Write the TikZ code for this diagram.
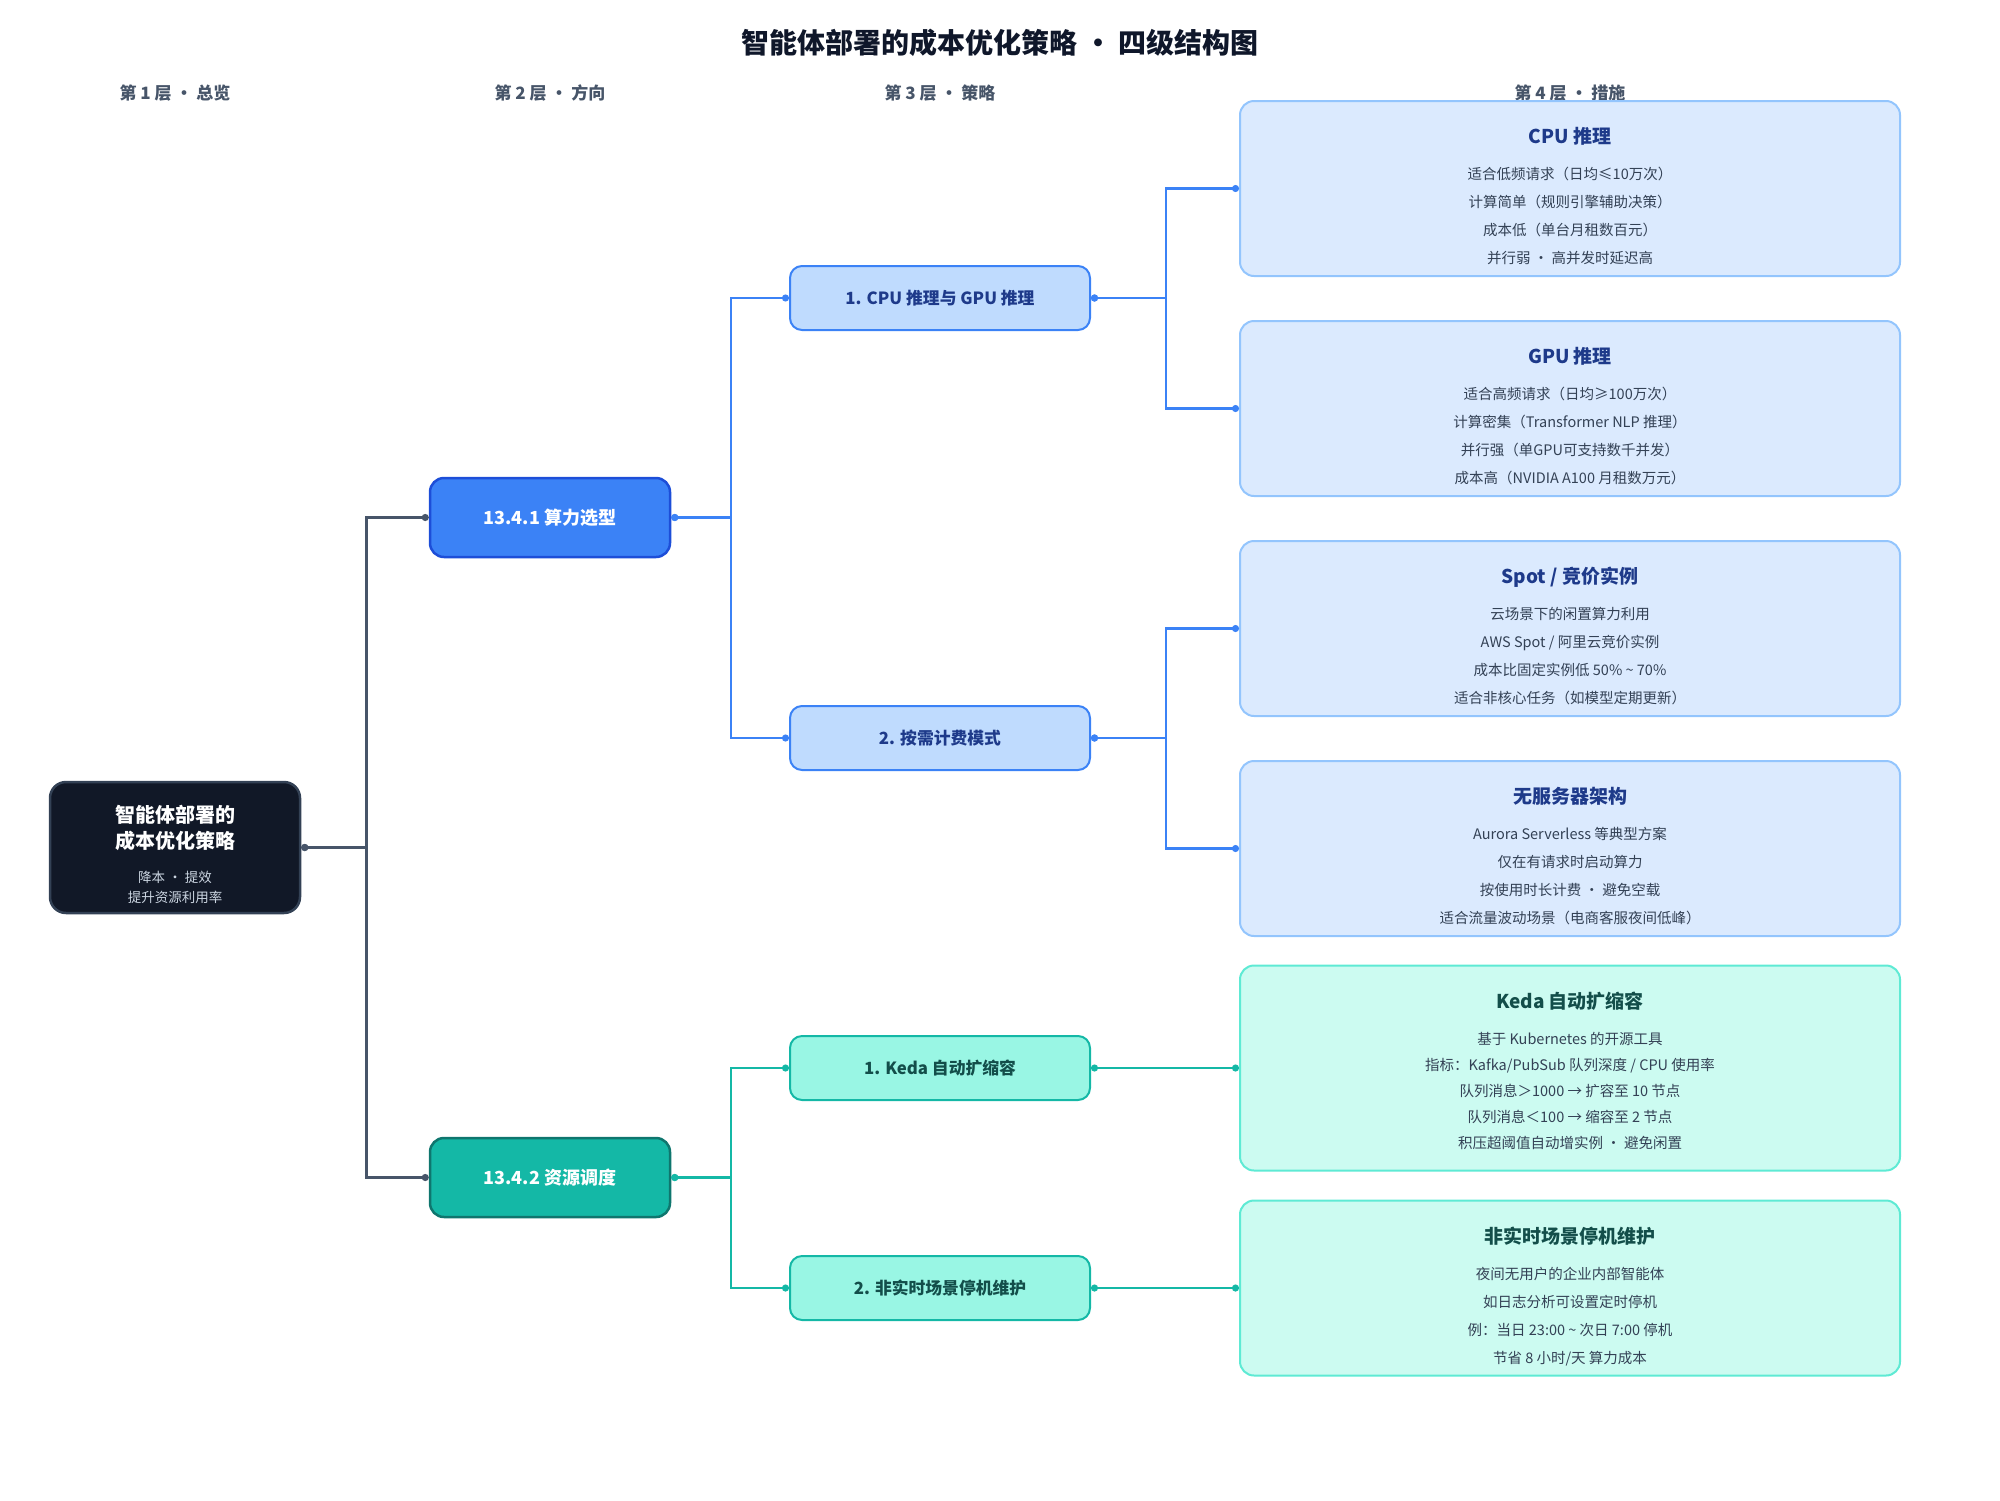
\documentclass[tikz,border=0pt]{standalone}
\usepackage{fontspec}
\setmainfont{Noto Sans CJK SC}
\usepackage{xcolor}
\usepackage{tikz}
\usetikzlibrary{positioning,arrows.meta}

\definecolor{titleInk}{HTML}{0F172A}
\definecolor{headInk}{HTML}{475569}
\definecolor{rootFill}{HTML}{111827}
\definecolor{rootLine}{HTML}{334155}
\definecolor{rootSub}{HTML}{CBD5E1}
\definecolor{trunkLine}{HTML}{475569}
\definecolor{blueMain}{HTML}{3B82F6}
\definecolor{blueDeep}{HTML}{1D4ED8}
\definecolor{blueSoft}{HTML}{BFDBFE}
\definecolor{blueWash}{HTML}{DBEAFE}
\definecolor{bluePale}{HTML}{93C5FD}
\definecolor{blueInk}{HTML}{1E3A8A}
\definecolor{tealMain}{HTML}{14B8A6}
\definecolor{tealDeep}{HTML}{0F766E}
\definecolor{tealSoft}{HTML}{99F6E4}
\definecolor{tealWash}{HTML}{CCFBF1}
\definecolor{tealPale}{HTML}{5EEAD4}
\definecolor{tealInk}{HTML}{134E4A}
\definecolor{bodyInk}{HTML}{334155}

\newcommand{\mhead}[2]{{\color{#1}\bfseries\fontsize{19}{28}\selectfont #2}}

\begin{document}
\begin{tikzpicture}[
    x=1pt, y=-1pt,
    header/.style={font=\bfseries\fontsize{17}{20}\selectfont, text=headInk},
    rootbox/.style={rectangle, draw=rootLine, fill=rootFill, line width=2.5pt, rounded corners=16pt, minimum width=250pt, minimum height=131pt},
    roottext/.style={align=center, inner sep=0pt, text=white, font=\bfseries\fontsize{20}{26}\selectfont},
    topic/.style={rectangle, line width=2.5pt, rounded corners=14pt, minimum width=240pt, minimum height=79pt, text=white, font=\bfseries\fontsize{18}{22}\selectfont},
    bluetopic/.style={topic, draw=blueDeep, fill=blueMain},
    greentopic/.style={topic, draw=tealDeep, fill=tealMain},
    tactic/.style={rectangle, line width=2pt, rounded corners=12pt, minimum width=300pt, minimum height=64pt, font=\bfseries\fontsize{16.8}{20}\selectfont},
    bluetactic/.style={tactic, draw=blueMain, fill=blueSoft, text=blueInk},
    greentactic/.style={tactic, draw=tealMain, fill=tealSoft, text=tealInk},
    measure/.style={rectangle, line width=2pt, rounded corners=14pt, minimum width=660pt, minimum height=175pt},
    bluemeasure/.style={measure, draw=bluePale, fill=blueWash},
    greenmeasure/.style={measure, draw=tealPale, fill=tealWash},
    detail/.style={align=center, inner sep=0pt, text=bodyInk, font=\fontsize{14.5}{28}\selectfont},
    link/.style={line width=2.5pt, arrows={Circle[length=7pt]-Circle[length=7pt]}},
    trunk/.style={link, draw=trunkLine},
    bluelink/.style={link, line width=2.2pt, draw=blueMain},
    greenlink/.style={link, line width=2.2pt, draw=tealMain}
]
    \useasboundingbox (0,0) rectangle (2000,1500);

    % Title and layer headers
    \node[font=\bfseries\fontsize{28}{32}\selectfont, text=titleInk] (title) at (1000,43) {智能体部署的成本优化策略 · 四级结构图};
    \node[header] (layerOne) at (175,93) {第 1 层 · 总览};
    \node[header] (layerTwo) at (550,93) {第 2 层 · 方向};
    \node[header] (layerThree) at (940,93) {第 3 层 · 策略};
    \node[header] (layerFour) at (1570,93) {第 4 层 · 措施};

    % Layer 1
    \node[rootbox] (root) at (175,847.5) {};
    \node[roottext, below=24pt of root.north] (rootText) {智能体部署的\\成本优化策略\\[8pt]{\mdseries\fontsize{13.5}{20}\selectfont\color{rootSub}降本 · 提效}\\[-6pt]{\mdseries\fontsize{13.5}{20}\selectfont\color{rootSub}提升资源利用率}};

    % Layer 2
    \node[bluetopic] (compute) at (550,517.5) {13.4.1 算力选型};
    \node[greentopic] (sched) at (550,1177.5) {13.4.2 资源调度};

    % Layer 3
    \node[bluetactic] (infer) at (940,298) {1. CPU 推理与 GPU 推理};
    \node[bluetactic] (billing) at (940,738) {2. 按需计费模式};
    \node[greentactic] (keda) at (940,1068) {1. Keda 自动扩缩容};
    \node[greentactic] (shutdown) at (940,1288) {2. 非实时场景停机维护};

    % Layer 4
    \node[bluemeasure] (cpu) at (1570,188.5) {};
    \node[detail, below=27pt of cpu.north] (cpuText) {\mhead{blueInk}{CPU 推理}\\[8pt]适合低频请求（日均≤10万次）\\计算简单（规则引擎辅助决策）\\成本低（单台月租数百元）\\并行弱 · 高并发时延迟高};
    \node[bluemeasure] (gpu) at (1570,408.5) {};
    \node[detail, below=27pt of gpu.north] (gpuText) {\mhead{blueInk}{GPU 推理}\\[8pt]适合高频请求（日均≥100万次）\\计算密集（Transformer NLP 推理）\\并行强（单GPU可支持数千并发）\\成本高（NVIDIA A100 月租数万元）};
    \node[bluemeasure] (spot) at (1570,628.5) {};
    \node[detail, below=27pt of spot.north] (spotText) {\mhead{blueInk}{Spot / 竞价实例}\\[8pt]云场景下的闲置算力利用\\AWS Spot / 阿里云竞价实例\\成本比固定实例低 50\% \textasciitilde{} 70\%\\适合非核心任务（如模型定期更新）};
    \node[bluemeasure] (serverless) at (1570,848.5) {};
    \node[detail, below=27pt of serverless.north] (serverlessText) {\mhead{blueInk}{无服务器架构}\\[8pt]Aurora Serverless 等典型方案\\仅在有请求时启动算力\\按使用时长计费 · 避免空载\\适合流量波动场景（电商客服夜间低峰）};
    \node[greenmeasure, minimum height=205pt] (autoscale) at (1570,1068) {};
    \node[detail, font=\fontsize{14.5}{26}\selectfont, below=27pt of autoscale.north] (autoscaleText) {\mhead{tealInk}{Keda 自动扩缩容}\\[10pt]基于 Kubernetes 的开源工具\\指标：Kafka/PubSub 队列深度 / CPU 使用率\\队列消息＞1000 → 扩容至 10 节点\\队列消息＜100 → 缩容至 2 节点\\积压超阈值自动增实例 · 避免闲置};
    \node[greenmeasure] (offpeak) at (1570,1288) {};
    \node[detail, below=27pt of offpeak.north] (offpeakText) {\mhead{tealInk}{非实时场景停机维护}\\[8pt]夜间无用户的企业内部智能体\\如日志分析可设置定时停机\\例：当日 23:00 \textasciitilde{} 次日 7:00 停机\\节省 8 小时/天 算力成本};

    % Connectors
    \draw[trunk] (root.east) -- ++(65,0) |- (compute.west);
    \draw[trunk] (root.east) -- ++(65,0) |- (sched.west);
    \draw[bluelink] (compute.east) -- ++(60,0) |- (infer.west);
    \draw[bluelink] (compute.east) -- ++(60,0) |- (billing.west);
    \draw[greenlink] (sched.east) -- ++(60,0) |- (keda.west);
    \draw[greenlink] (sched.east) -- ++(60,0) |- (shutdown.west);
    \draw[bluelink] (infer.east) -- ++(75,0) |- (cpu.west);
    \draw[bluelink] (infer.east) -- ++(75,0) |- (gpu.west);
    \draw[bluelink] (billing.east) -- ++(75,0) |- (spot.west);
    \draw[bluelink] (billing.east) -- ++(75,0) |- (serverless.west);
    \draw[greenlink] (keda.east) -- (autoscale.west);
    \draw[greenlink] (shutdown.east) -- (offpeak.west);
\end{tikzpicture}
\end{document}
